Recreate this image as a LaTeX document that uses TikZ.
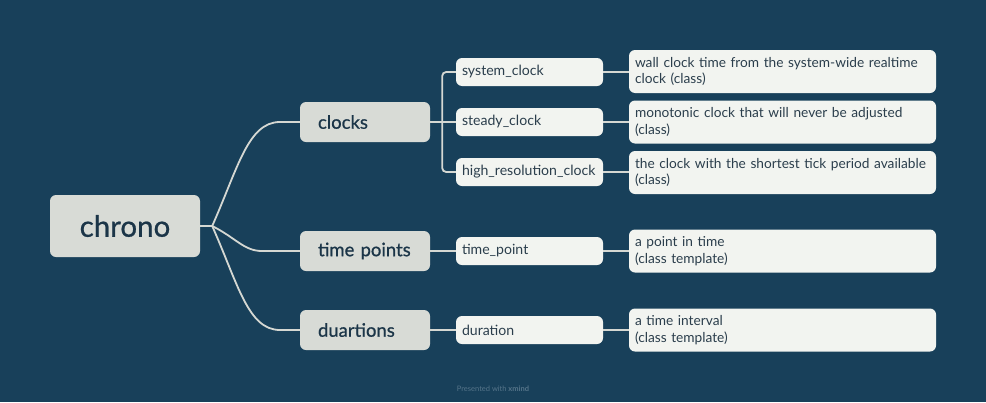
\documentclass[tikz,border=0pt]{standalone}
\usepackage{fontspec}
\setmainfont{Lato}
\newfontfamily\semib[FakeBold=0.7]{Lato}
\usetikzlibrary{calc}
\definecolor{bg}{HTML}{18405A}
\definecolor{mainfill}{HTML}{D8DBD6}
\definecolor{leaffill}{HTML}{F2F4F0}
\definecolor{maintext}{HTML}{1B3548}
\definecolor{leaftext}{HTML}{2B3E4C}
\definecolor{linec}{HTML}{D5D8D3}
\definecolor{footc}{HTML}{557489}
\begin{document}
\begin{tikzpicture}[x=1pt,y=-1pt,
  rootbox/.style={fill=mainfill,rounded corners=6pt,minimum width=150pt,minimum height=62pt,inner sep=0pt,text=maintext,font=\semib\fontsize{29.5}{32}\selectfont},
  mainbox/.style={fill=mainfill,rounded corners=6pt,minimum height=40pt,text width=112pt,inner xsep=9pt,inner ysep=0pt,align=left,text=maintext,font=\semib\fontsize{18.5}{21}\selectfont,execute at begin node={\hspace*{9pt}}},
  childbox/.style={fill=leaffill,rounded corners=6pt,minimum height=28pt,text width=135pt,inner xsep=6pt,inner ysep=0pt,align=left,text=leaftext,font=\fontsize{14.1}{17}\selectfont},
  leafbox/.style={fill=leaffill,rounded corners=6pt,minimum height=43pt,text width=299pt,inner xsep=4pt,inner ysep=0pt,align=left,text=leaftext,font=\fontsize{13.7}{16.5}\selectfont,execute at begin node={\hyphenpenalty=10000\hspace*{2pt}}},
  conn/.style={draw=linec,line width=1.8pt}
]
\fill[bg] (0,0) rectangle (986,402);
\useasboundingbox (0,0) rectangle (986,402);

\node[rootbox] (root) at (125,226) {chrono};

\node[mainbox] (clocks) at (365,122) {clocks};
\node[mainbox] (tp) at (365,251) {time points};
\node[mainbox] (dur) at (365,330) {duartions};

\node[childbox] (sys) at (529.5,72) {system\_clock};
\node[childbox] (std) at (529.5,122) {steady\_clock};
\node[childbox] (hrc) at (529.5,172) {high\_resolution\_clock};
\node[childbox] (tpc) at (529.5,251) {time\_point};
\node[childbox] (durc) at (529.5,330) {duration};

\node[leafbox] (lsys) at (782.5,71.5) {wall clock time from the system-wide realtime\\\hspace*{2pt}clock (class)};
\node[leafbox] (lstd) at (782.5,122) {monotonic clock that will never be adjusted\\\hspace*{2pt}(class)};
\node[leafbox] (lhrc) at (782.5,172.5) {the clock with the shortest tick period available\\\hspace*{2pt}(class)};
\node[leafbox] (ltp) at (782.5,251) {a point in time\\\hspace*{2pt}(class template)};
\node[leafbox] (ldur) at (782.5,330) {a time interval\\\hspace*{2pt}(class template)};

\coordinate (hub) at ($(root.east)+(12,0)$);
\draw[conn] (root.east) -- (hub);
\draw[conn] (hub) .. controls (238,168) and (248,122) .. (280,122) -- (clocks.west);
\draw[conn] (hub) .. controls (236,238) and (244,251) .. (262,251) -- (tp.west);
\draw[conn] (hub) .. controls (238,284) and (248,330) .. (280,330) -- (dur.west);

\coordinate (cj) at ($(clocks.east)+(12,0)$);
\draw[conn] (clocks.east) -- (std.west);
\draw[conn,rounded corners=4pt] (sys.west) -| (cj) |- (hrc.west);
\draw[conn] (tp.east) -- (tpc.west);
\draw[conn] (dur.east) -- (durc.west);

\draw[conn] (sys.east) -- (lsys.west|-sys.east);
\draw[conn] (std.east) -- (lstd.west);
\draw[conn] (hrc.east) -- (lhrc.west|-hrc.east);
\draw[conn] (tpc.east) -- (ltp.west);
\draw[conn] (durc.east) -- (ldur.west);

\node[text=footc,font=\fontsize{7.5}{9}\selectfont] (foot) at (493,389) {Presented with \textbf{xmind}};
\end{tikzpicture}
\end{document}
